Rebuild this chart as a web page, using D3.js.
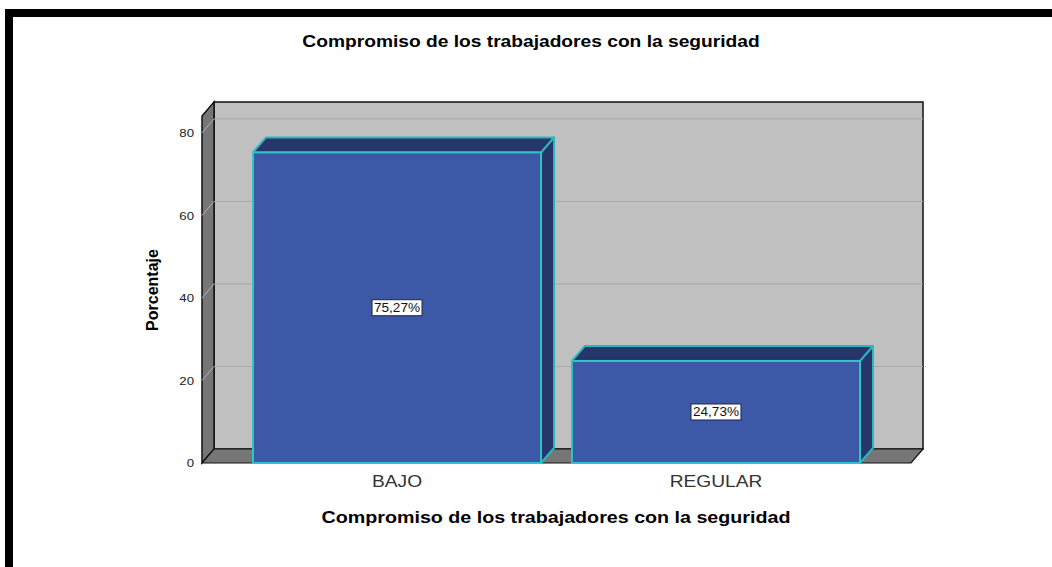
<!DOCTYPE html>
<html>
<head>
<meta charset="utf-8">
<script src="https://cdnjs.cloudflare.com/ajax/libs/d3/7.8.5/d3.min.js"></script>
<style>
  html, body { margin: 0; padding: 0; background: #fff; }
  svg { display: block; font-family: "Liberation Sans", Arial, sans-serif; }
</style>
</head>
<body>
<svg id="chart" width="1052" height="567"></svg>
<script>
const categories = ["BAJO", "REGULAR"];
const values = [75.27, 24.73];
const valueLabels = ["75,27%", "24,73%"];
const yTicks = [0, 20, 40, 60, 80];
const chartTitle = "Compromiso de los trabajadores con la seguridad";
const xTitle = "Compromiso de los trabajadores con la seguridad";
const yTitle = "Porcentaje";

const svg = d3.select("#chart");

// frame
svg.append("rect").attr("x", 5).attr("y", 9).attr("width", 1047).attr("height", 8).attr("fill", "#000");
svg.append("rect").attr("x", 5).attr("y", 9).attr("width", 8).attr("height", 558).attr("fill", "#000");

const X0 = 202, X1 = 911;          // front plane
const DX = 12, DY = 14;             // wall depth
const BDX = 13, BDY = 15;           // bar depth
const SX = 1.2;                     // horizontal text stretch
const y = d3.scaleLinear().domain([0, 84.1]).range([463, 116]);
const x = d3.scaleBand().domain(categories).range([253, 860]).paddingInner(0.097).paddingOuter(0);

const Y0 = y(0), YT = y(84.1);

// back wall
svg.append("rect").attr("x", X0 + DX).attr("y", YT - DY)
  .attr("width", X1 - X0).attr("height", Y0 - YT)
  .attr("fill", "#c0c0c0").attr("stroke", "#111").attr("stroke-width", 1.5);
// left wall
svg.append("polygon")
  .attr("points", [[X0, Y0], [X0, YT], [X0 + DX, YT - DY], [X0 + DX, Y0 - DY]].join(" "))
  .attr("fill", "#767676").attr("stroke", "#111").attr("stroke-width", 1.5);
// floor
svg.append("polygon")
  .attr("points", [[X0, Y0], [X0 + DX, Y0 - DY], [X1 + DX, Y0 - DY], [X1, Y0]].join(" "))
  .attr("fill", "#767676").attr("stroke", "#111").attr("stroke-width", 1.2);

// gridlines
const grid = svg.append("g");
yTicks.filter(t => t > 0).forEach(t => {
  grid.append("line").attr("x1", X0 + DX).attr("x2", X1 + DX)
    .attr("y1", y(t) - DY).attr("y2", y(t) - DY)
    .attr("stroke", "#a8a8a8").attr("stroke-width", 1);
  grid.append("line").attr("x1", X0).attr("x2", X0 + DX)
    .attr("y1", y(t)).attr("y2", y(t) - DY)
    .attr("stroke", "#b4b4b4").attr("stroke-width", 1);
});

// y axis tick labels
const yAxis = d3.axisLeft(y).tickValues(yTicks).tickSize(0).tickPadding(8);
const gy = svg.append("g").attr("transform", `translate(${X0},0)`).call(yAxis);
gy.select(".domain").remove();
gy.selectAll("text").attr("font-size", 11.5).attr("fill", "#222")
  .attr("font-family", "Liberation Sans, Arial, sans-serif")
  .attr("x", -8 / 1.15).attr("transform", "scale(1.15,1)");

// bars
const bars = svg.append("g").selectAll("g").data(categories).join("g");
bars.each(function (c, i) {
  const g = d3.select(this);
  const bx0 = x(c), bx1 = x(c) + x.bandwidth();
  const yt = y(values[i]);
  g.append("polygon")
    .attr("points", [[bx1, yt], [bx1 + BDX, yt - BDY], [bx1 + BDX, Y0 - BDY], [bx1, Y0]].join(" "))
    .attr("fill", "#26366a").attr("stroke", "#2ab8bd").attr("stroke-width", 2).attr("stroke-linejoin", "round");
  g.append("polygon")
    .attr("points", [[bx0, yt], [bx0 + BDX, yt - BDY], [bx1 + BDX, yt - BDY], [bx1, yt]].join(" "))
    .attr("fill", "#26366a").attr("stroke", "#2ab8bd").attr("stroke-width", 2).attr("stroke-linejoin", "round");
  g.append("rect").attr("x", bx0).attr("y", yt).attr("width", bx1 - bx0).attr("height", Y0 - yt)
    .attr("fill", "#3e58a8").attr("stroke", "#2ec4c8").attr("stroke-width", 2);
  // value label
  const cx = (bx0 + bx1) / 2, cy = (yt + Y0) / 2;
  const t = g.append("text").attr("x", 0).attr("y", 0)
    .attr("transform", `translate(${cx},${cy + 4.5}) scale(1.13,1)`)
    .attr("text-anchor", "middle").attr("font-size", 12).attr("fill", "#111")
    .text(valueLabels[i]);
  const w = t.node().getBBox().width * 1.13;
  g.insert("rect", "text").attr("x", cx - w / 2 - 2).attr("y", cy - 8)
    .attr("width", w + 4).attr("height", 16)
    .attr("fill", "#fff").attr("stroke", "#1c2540").attr("stroke-width", 1);
});

// x axis category labels
const xAxis = d3.axisBottom(x).tickSize(0).tickPadding(13);
const gx = svg.append("g").attr("transform", `translate(0,${Y0})`).call(xAxis);
gx.select(".domain").remove();
gx.selectAll("text").attr("font-size", 16).attr("fill", "#333")
  .attr("font-family", "Liberation Sans, Arial, sans-serif")
  .attr("transform", `scale(${SX},1)`);

// titles
svg.append("text").attr("transform", `translate(531,47) scale(${SX},1)`).attr("text-anchor", "middle")
  .attr("font-size", 16).attr("font-weight", "bold").attr("fill", "#000").text(chartTitle);
svg.append("text").attr("transform", `translate(556,523) scale(1.23,1)`).attr("text-anchor", "middle")
  .attr("font-size", 16).attr("font-weight", "bold").attr("fill", "#000").text(xTitle);
svg.append("text").attr("transform", "translate(158,290) rotate(-90)").attr("text-anchor", "middle")
  .attr("font-size", 16).attr("font-weight", "bold").attr("fill", "#000").text(yTitle);
</script>
</body>
</html>
